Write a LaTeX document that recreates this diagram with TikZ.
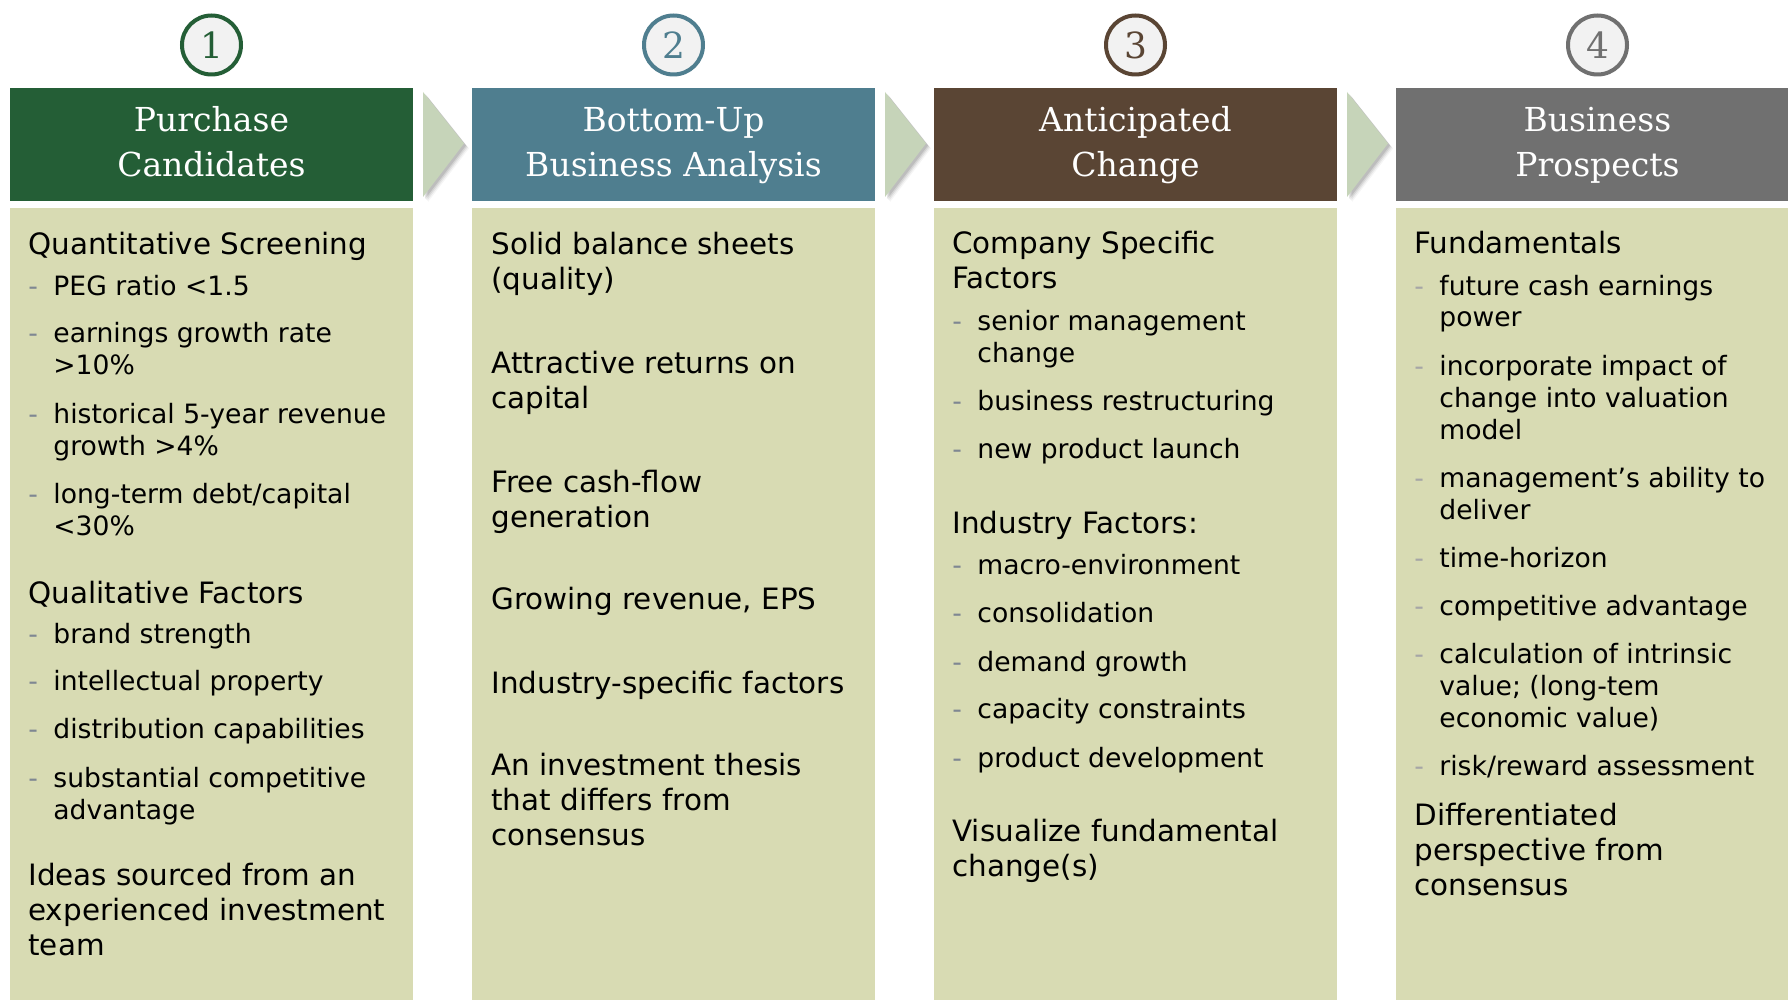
\documentclass[tikz,border=0pt]{standalone}
\usepackage{fontspec}
\setmainfont{DejaVu Sans}
\newfontfamily\serifhd{DejaVu Serif}
\definecolor{hgreen}{HTML}{245E36}
\definecolor{hblue}{HTML}{4F7E8F}
\definecolor{hbrown}{HTML}{5A4534}
\definecolor{hgray}{HTML}{707070}
\definecolor{bodyc}{HTML}{D8DBB3}
\definecolor{arrowc}{HTML}{C6D4B9}
\definecolor{circfill}{HTML}{F2F2F2}
\definecolor{dashc}{HTML}{7F8792}
\definecolor{dashd}{HTML}{A6A6A6}
\newcommand\hdtxt[1]{\parbox[t]{200pt}{\raggedright\fontsize{14.7pt}{17.5pt}\selectfont #1}}
\newcommand\ittxt[2][dashc]{\fontsize{13.3pt}{16pt}\selectfont\makebox[12.5pt][l]{\textcolor{#1}{-}}\parbox[t]{190pt}{\raggedright\fontsize{13.3pt}{16pt}\selectfont #2}}
\newcommand\ttltxt[1]{\parbox[t]{190pt}{\centering\serifhd\fontsize{16.5pt}{22.5pt}\selectfont #1}}
\tikzset{
  hd/.style={anchor=base west, inner sep=0pt, text=black},
  it/.style={anchor=base west, inner sep=0pt, text=black},
  ttl/.style={anchor=base, inner sep=0pt, text=white},
  numc/.style={circle, line width=2pt, fill=circfill, minimum size=29.5pt, inner sep=0pt, font=\serifhd\fontsize{18pt}{20pt}\selectfont},
}
\begin{document}
\begin{tikzpicture}[x=0.5pt,y=-0.5pt]
\useasboundingbox (0,0) rectangle (1788,1000);
\fill[white] (0,0) rectangle (1788,1000);

% header bars and bodies
\fill[hgreen] (10,88) rectangle (413,201);
\fill[hblue]  (472,88) rectangle (875,201);
\fill[hbrown] (934,88) rectangle (1337,201);
\fill[hgray]  (1396,88) rectangle (1788,201);
\fill[bodyc] (10,208) rectangle (413,1000);
\fill[bodyc] (472,208) rectangle (875,1000);
\fill[bodyc] (934,208) rectangle (1337,1000);
\fill[bodyc] (1396,208) rectangle (1788,1000);

% arrows with soft shadow
\foreach \L in {10,472,934} {
  \foreach \o/\op in {5/0.04,4/0.06,3/0.08,2/0.10} {
    \fill[black,opacity=\op] (\L+413+\o,92+\o) -- (\L+454+\o,143.5+\o) -- (\L+413+\o,197+\o) -- cycle;
  }
  \fill[arrowc] (\L+413,92) -- (\L+454,143.5) -- (\L+413,197) -- cycle;
}

% number circles
\node[numc, draw=hgreen, text=hgreen] (n1) at (211.5,45) {1};
\node[numc, draw=hblue, text=hblue] (n2) at (673.5,45) {2};
\node[numc, draw=hbrown, text=hbrown] (n3) at (1135.5,45) {3};
\node[numc, draw=hgray, text=hgray] (n4) at (1597.5,45) {4};

% titles
\node[ttl] (t1) at (211.5,132) {\ttltxt{Purchase\\Candidates}};
\node[ttl] (t2) at (673.5,132) {\ttltxt{Bottom-Up\\Business Analysis}};
\node[ttl] (t3) at (1135.5,132) {\ttltxt{Anticipated\\Change}};
\node[ttl] (t4) at (1597.5,132) {\ttltxt{Business\\Prospects}};

% column 1
\node[hd] (a1) at (28,255) {\hdtxt{Quantitative Screening}};
\node[it] (a2) at (28,296) {\ittxt{PEG ratio <1.5}};
\node[it] (a3) at (28,343) {\ittxt{earnings growth rate\\>10\%}};
\node[it] (a4) at (28,423) {\ittxt{historical 5-year revenue\\growth >4\%}};
\node[it] (a5) at (28,503) {\ittxt{long-term debt/capital\\<30\%}};
\node[hd] (a6) at (28,603) {\hdtxt{Qualitative Factors}};
\node[it] (a7) at (28,643) {\ittxt{brand strength}};
\node[it] (a8) at (28,690) {\ittxt{intellectual property}};
\node[it] (a9) at (28,738) {\ittxt{distribution capabilities}};
\node[it] (a10) at (28,787) {\ittxt{substantial competitive\\advantage}};
\node[hd] (a11) at (28,885) {\hdtxt{Ideas sourced from an\\experienced investment\\team}};

% column 2
\node[hd] (b1) at (491,255) {\hdtxt{Solid balance sheets\\(quality)}};
\node[hd] (b2) at (491,373) {\hdtxt{Attractive returns on\\capital}};
\node[hd] (b3) at (491,492) {\hdtxt{Free cash-flow\\generation}};
\node[hd] (b4) at (491,609) {\hdtxt{Growing revenue, EPS}};
\node[hd] (b5) at (491,693) {\hdtxt{Industry-specific factors}};
\node[hd] (b6) at (491,775) {\hdtxt{An investment thesis\\that differs from\\consensus}};

% column 3
\node[hd] (c1) at (952,254) {\hdtxt{Company Specific\\Factors}};
\node[it] (c2) at (952,330) {\ittxt{senior management\\change}};
\node[it] (c3) at (952,410) {\ittxt{business restructuring}};
\node[it] (c4) at (952,458) {\ittxt{new product launch}};
\node[hd] (c5) at (952,533) {\hdtxt{Industry Factors:}};
\node[it] (c6) at (952,574) {\ittxt{macro-environment}};
\node[it] (c7) at (952,622) {\ittxt{consolidation}};
\node[it] (c8) at (952,671) {\ittxt{demand growth}};
\node[it] (c9) at (952,718) {\ittxt{capacity constraints}};
\node[it] (c10) at (952,767) {\ittxt{product development}};
\node[hd] (c11) at (952,841) {\hdtxt{Visualize fundamental\\change(s)}};

% column 4
\node[hd] (d1) at (1414,254) {\hdtxt{Fundamentals}};
\node[it] (d2) at (1414,295) {\ittxt[dashd]{future cash earnings\\power}};
\node[it] (d3) at (1414,375) {\ittxt[dashd]{incorporate impact of\\change into valuation\\model}};
\node[it] (d4) at (1414,487) {\ittxt[dashd]{management’s ability to\\deliver}};
\node[it] (d5) at (1414,567) {\ittxt[dashd]{time-horizon}};
\node[it] (d6) at (1414,615) {\ittxt[dashd]{competitive advantage}};
\node[it] (d7) at (1414,663) {\ittxt[dashd]{calculation of intrinsic\\value; (long-tem\\economic value)}};
\node[it] (d8) at (1414,775) {\ittxt[dashd]{risk/reward assessment}};
\node[hd] (d9) at (1414,825) {\hdtxt{Differentiated\\perspective from\\consensus}};
\end{tikzpicture}
\end{document}
